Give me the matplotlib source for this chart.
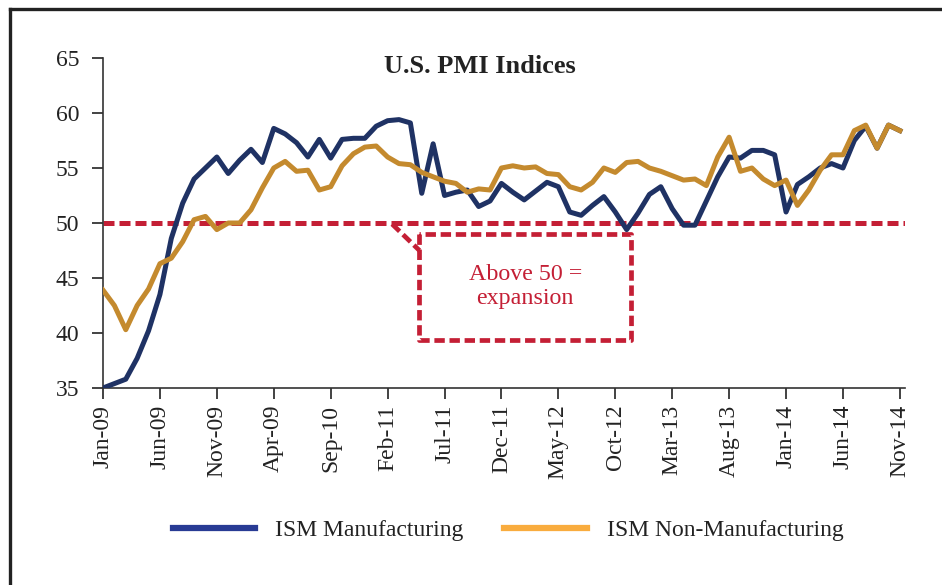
import numpy as np
import matplotlib
matplotlib.use("Agg")
import matplotlib.pyplot as plt
from matplotlib.lines import Line2D

plt.rcParams['font.family'] = ['Liberation Serif', 'DejaVu Serif']

# Datos (mensuales, ene-09 .. nov-14)
tick_labels = ['Jan-09', 'Jun-09', 'Nov-09', 'Apr-09', 'Sep-10', 'Feb-11', 'Jul-11',
               'Dec-11', 'May-12', 'Oct-12', 'Mar-13', 'Aug-13', 'Jan-14', 'Jun-14', 'Nov-14']

ism_manuf = [35.0, 35.4, 35.8, 37.7, 40.2, 43.5, 48.6, 51.8, 54.0, 55.0,
             56.0, 54.5, 55.7, 56.7, 55.5, 58.6, 58.1, 57.3, 56.0, 57.6,
             55.9, 57.6, 57.7, 57.7, 58.8, 59.3, 59.4, 59.1, 52.7, 57.2,
             52.5, 52.8, 53.0, 51.5, 52.0, 53.6, 52.8, 52.1, 52.9, 53.7,
             53.3, 51.0, 50.7, 51.6, 52.4, 51.0, 49.4, 50.9, 52.6, 53.3,
             51.3, 49.8, 49.8, 52.0, 54.2, 56.0, 55.9, 56.6, 56.6, 56.2,
             51.0, 53.5, 54.2, 55.0, 55.4, 55.0, 57.5, 58.8, 56.8, 58.9,
             58.4]

ism_nonmanuf = [43.9, 42.5, 40.3, 42.5, 44.0, 46.3, 46.8, 48.3, 50.3, 50.6,
                49.4, 50.0, 50.0, 51.2, 53.2, 55.0, 55.6, 54.7, 54.8, 53.0,
                53.3, 55.2, 56.3, 56.9, 57.0, 56.0, 55.4, 55.3, 54.6, 54.2,
                53.8, 53.6, 52.8, 53.1, 53.0, 55.0, 55.2, 55.0, 55.1, 54.5,
                54.4, 53.3, 53.0, 53.7, 55.0, 54.6, 55.5, 55.6, 55.0, 54.7,
                54.3, 53.9, 54.0, 53.4, 56.0, 57.8, 54.7, 55.0, 54.0, 53.4,
                53.9, 51.6, 53.0, 54.8, 56.2, 56.2, 58.4, 58.9, 56.8, 58.9,
                58.4]

threshold = 50

blue = '#1F3264'
orange = '#C48A2E'
red = '#C41F35'

fig = plt.figure(figsize=(9.42, 5.85), dpi=100)
ax = fig.add_axes([103 / 942, 197 / 585, 802 / 942, 330 / 585])

x = np.arange(len(ism_manuf))
ax.plot(x, ism_manuf, color=blue, lw=3.6, zorder=3)
ax.plot(x, ism_nonmanuf, color=orange, lw=3.6, zorder=4)

# linea de 50 y recuadro
dash = (0, (2.2, 1.0))
ax.axhline(threshold, color=red, lw=3.6, linestyle=dash, zorder=2)
ax.plot([25.4, 27.8], [49.9, 47.5], color=red, lw=3.4, linestyle=dash)
ax.plot([27.8, 27.8, 46.4, 46.4, 27.8], [49.0, 39.4, 39.4, 49.0, 49.0],
        color=red, lw=3.4, linestyle=dash)
ax.text(37.1, 44.2, 'Above 50 =\nexpansion', color=red, fontsize=17.3,
        ha='center', va='center', linespacing=1.2)

ax.set_xlim(0, 70.45)
ax.set_ylim(35, 65)
ax.set_yticks(range(35, 66, 5))
ax.set_xticks(range(0, 71, 5))
ax.set_xticklabels(tick_labels, rotation=90)
ax.tick_params(axis='y', direction='out', length=8, width=1.2, pad=9,
               labelsize=17, colors='#222222')
ax.tick_params(axis='x', direction='out', length=8, width=1.2, pad=4,
               labelsize=17, colors='#222222')
for s in ['top', 'right']:
    ax.spines[s].set_visible(False)
for s in ['left', 'bottom']:
    ax.spines[s].set_color('#333333')
    ax.spines[s].set_linewidth(1.2)

ax.text(0.47, 0.973, 'U.S. PMI Indices', transform=ax.transAxes, ha='center',
        va='center', fontsize=19, fontweight='bold', color='#222222')

handles = [Line2D([], [], color='#283B94', lw=4.5),
           Line2D([], [], color='#F9AC3E', lw=4.5)]
fig.legend(handles, ['ISM Manufacturing', 'ISM Non-Manufacturing'],
           loc='center', bbox_to_anchor=(508 / 942, 1 - 530 / 585), ncol=2,
           frameon=False, fontsize=17, handlelength=3.5, handletextpad=0.85,
           columnspacing=1.7, labelcolor='#222222')

# borde
fig.add_artist(Line2D([10 / 942, 10 / 942], [0, 1 - 9 / 585], color='#222222',
                      lw=2.4, transform=fig.transFigure))
fig.add_artist(Line2D([10 / 942, 1], [1 - 9 / 585, 1 - 9 / 585], color='#222222',
                      lw=2.4, transform=fig.transFigure))

fig.savefig('out.png', dpi=100)
